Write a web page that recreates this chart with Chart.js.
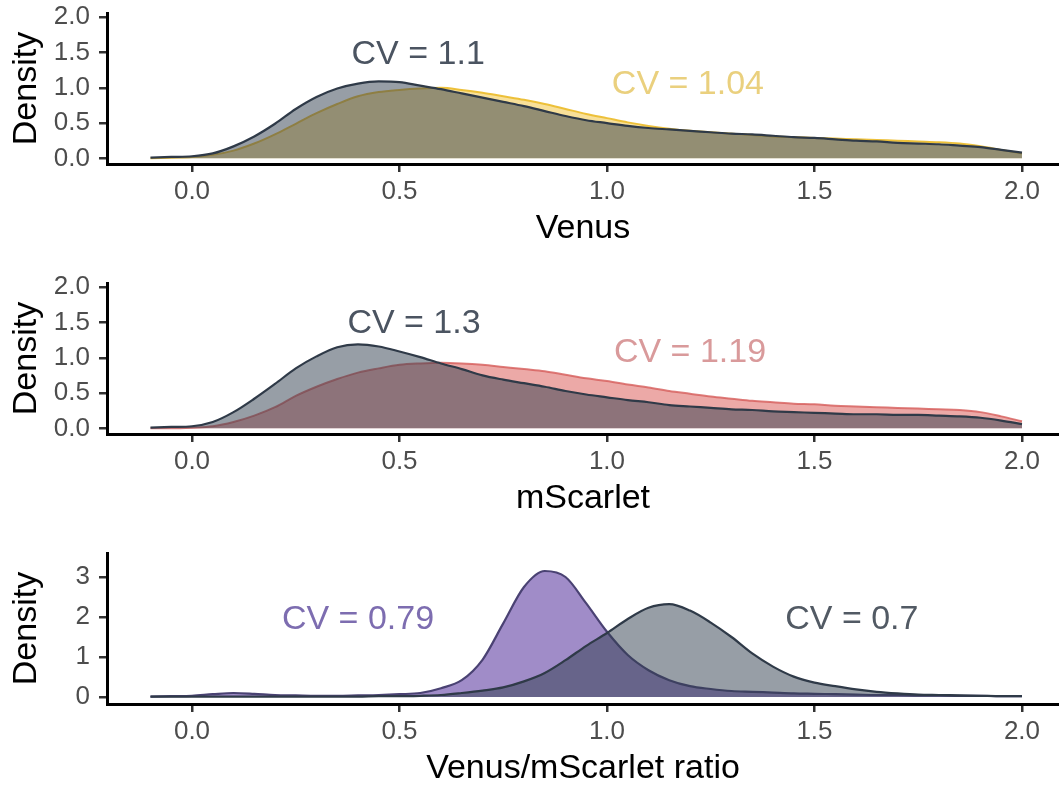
<!DOCTYPE html>
<html>
<head>
<meta charset="utf-8">
<script src="https://cdn.jsdelivr.net/npm/chart.js@4.4.1/dist/chart.umd.min.js"></script>
<style>
  html, body { margin: 0; padding: 0; background: #fff; overflow: hidden; width: 1059px; height: 787px; }
  .panel { position: absolute; left: 0; width: 1059px; height: 262px; }
  canvas { display: block; }
</style>
</head>
<body>
<div class="panel" style="top:0px"><canvas id="venus" width="1059" height="262"></canvas></div>
<div class="panel" style="top:270px"><canvas id="mscarlet" width="1059" height="262"></canvas></div>
<div class="panel" style="top:540px"><canvas id="ratio" width="1059" height="262"></canvas></div>
<script>
// Evaluation grid shared by all density curves
const xGrid = [-0.10, -0.05, 0.00, 0.05, 0.10, 0.15, 0.20, 0.25, 0.30, 0.35, 0.40,
               0.45, 0.50, 0.55, 0.60, 0.65, 0.70, 0.75, 0.80, 0.85, 0.90, 0.95,
               1.00, 1.05, 1.10, 1.15, 1.20, 1.25, 1.30, 1.35, 1.40, 1.45, 1.50,
               1.55, 1.60, 1.65, 1.70, 1.75, 1.80, 1.85, 1.90, 1.95, 2.00];

// Venus densities
const venusDark = [0.01, 0.02, 0.03, 0.07, 0.17, 0.31, 0.49, 0.70, 0.87, 0.99, 1.06,
                   1.09, 1.08, 1.03, 0.98, 0.92, 0.86, 0.80, 0.74, 0.67, 0.60, 0.54,
                   0.50, 0.46, 0.43, 0.41, 0.39, 0.37, 0.35, 0.34, 0.32, 0.30, 0.29,
                   0.27, 0.25, 0.24, 0.22, 0.21, 0.20, 0.18, 0.16, 0.12, 0.08];
const venusGold = [0.00, 0.01, 0.02, 0.05, 0.11, 0.21, 0.34, 0.49, 0.64, 0.77, 0.88,
                   0.94, 0.97, 0.99, 1.00, 0.97, 0.93, 0.88, 0.83, 0.77, 0.70, 0.63,
                   0.57, 0.51, 0.46, 0.42, 0.39, 0.37, 0.35, 0.33, 0.31, 0.30, 0.29,
                   0.28, 0.27, 0.26, 0.25, 0.24, 0.23, 0.21, 0.17, 0.12, 0.07];

// mScarlet densities
const scarletDark = [0.01, 0.02, 0.03, 0.09, 0.23, 0.42, 0.63, 0.85, 1.02, 1.15, 1.19,
                     1.16, 1.09, 1.01, 0.92, 0.84, 0.75, 0.69, 0.64, 0.59, 0.53, 0.48,
                     0.44, 0.40, 0.37, 0.33, 0.31, 0.29, 0.27, 0.26, 0.24, 0.23, 0.22,
                     0.21, 0.20, 0.20, 0.19, 0.19, 0.18, 0.17, 0.15, 0.11, 0.06];
const scarletRed = [0.00, 0.00, 0.01, 0.03, 0.09, 0.18, 0.30, 0.46, 0.59, 0.70, 0.79,
                    0.85, 0.90, 0.92, 0.93, 0.92, 0.90, 0.87, 0.84, 0.81, 0.76, 0.71,
                    0.67, 0.62, 0.58, 0.53, 0.49, 0.45, 0.42, 0.39, 0.37, 0.35, 0.34,
                    0.32, 0.31, 0.30, 0.29, 0.28, 0.27, 0.26, 0.23, 0.17, 0.10];

// Venus/mScarlet ratio densities
const ratioDark = [0.01, 0.01, 0.01, 0.01, 0.01, 0.01, 0.01, 0.01, 0.01, 0.01, 0.01,
                   0.02, 0.02, 0.03, 0.05, 0.10, 0.16, 0.24, 0.39, 0.60, 0.92, 1.28,
                   1.60, 1.95, 2.23, 2.32, 2.16, 1.86, 1.50, 1.09, 0.76, 0.51, 0.36,
                   0.27, 0.19, 0.13, 0.09, 0.06, 0.05, 0.04, 0.03, 0.02, 0.02];
const ratioPurple = [0.01, 0.02, 0.03, 0.07, 0.10, 0.08, 0.05, 0.04, 0.03, 0.03, 0.04,
                     0.05, 0.07, 0.10, 0.22, 0.42, 0.93, 1.84, 2.75, 3.15, 3.00, 2.34,
                     1.63, 1.05, 0.67, 0.42, 0.27, 0.20, 0.15, 0.13, 0.11, 0.09, 0.08,
                     0.07, 0.06, 0.05, 0.05, 0.04, 0.04, 0.03, 0.03, 0.02, 0.02];

// Axis ticks
const xTickValues = [0, 0.5, 1, 1.5, 2];
const xTickLabels = ['0.0', '0.5', '1.0', '1.5', '2.0'];
const yTickValuesFine = [0, 0.5, 1, 1.5, 2];
const yTickLabelsFine = ['0.0', '0.5', '1.0', '1.5', '2.0'];
const yTickValuesRatio = [0, 1, 2, 3];
const yTickLabelsRatio = ['0', '1', '2', '3'];

// CV annotations
const venusNotes = [
  { text: 'CV = 1.1', x: 0.545, y: 1.465, color: '#4b5461' },
  { text: 'CV = 1.04', x: 1.195, y: 1.04, color: '#ead07e' }
];
const scarletNotes = [
  { text: 'CV = 1.3', x: 0.535, y: 1.49, color: '#4b5461' },
  { text: 'CV = 1.19', x: 1.2, y: 1.08, color: '#d99a9b' }
];
const ratioNotes = [
  { text: 'CV = 0.79', x: 0.40, y: 1.93, color: '#7d6db0' },
  { text: 'CV = 0.7', x: 1.59, y: 1.93, color: '#525a64' }
];

const FONT = '"Liberation Sans", Arial, Helvetica, sans-serif';

const toPoints = (ys) => xGrid.map((x, i) => ({ x: x, y: ys[i] }));

const notesPlugin = {
  id: 'cvNotes',
  afterDatasetsDraw(chart, args, opts) {
    const ctx = chart.ctx;
    const xs = chart.scales.x, ys = chart.scales.y;
    ctx.save();
    ctx.font = '34px ' + FONT;
    ctx.textAlign = 'center';
    ctx.textBaseline = 'middle';
    (opts.notes || []).forEach(n => {
      ctx.fillStyle = n.color;
      ctx.fillText(n.text, xs.getPixelForValue(n.x), ys.getPixelForValue(n.y));
    });
    ctx.restore();
  }
};

function densityDataset(ys, fill, stroke, width) {
  return {
    data: toPoints(ys),
    backgroundColor: fill,
    borderColor: stroke,
    borderWidth: width,
    fill: 'origin',
    pointRadius: 0,
    cubicInterpolationMode: 'monotone'
  };
}

function makePanel(id, cfg) {
  const tickGrid = {
    display: true, drawOnChartArea: false, drawTicks: true,
    tickLength: 8, tickColor: '#333333', color: '#333333', lineWidth: 2.5
  };
  new Chart(document.getElementById(id), {
    type: 'line',
    data: { datasets: cfg.datasets },
    plugins: [notesPlugin],
    options: {
      responsive: false,
      animation: false,
      devicePixelRatio: 1,
      layout: { padding: { top: 13, left: 0, right: 0, bottom: 0 } },
      plugins: {
        legend: { display: false },
        tooltip: { enabled: false },
        cvNotes: { notes: cfg.notes }
      },
      scales: {
        x: {
          type: 'linear',
          min: -0.2048, max: 2.0892,
          afterBuildTicks: s => { s.ticks = xTickValues.map(v => ({ value: v })); },
          afterFit: s => { s.height = 98; s.paddingLeft = 0; s.paddingRight = 0; },
          ticks: {
            callback: (v, i) => xTickLabels[i],
            font: { family: FONT, size: 26 },
            color: '#4d4d4d', padding: 4.4,
            maxRotation: 0, autoSkip: false
          },
          grid: tickGrid,
          border: { display: true, color: '#000000', width: 3 },
          title: {
            display: true, text: cfg.xTitle, color: '#000000',
            font: { family: FONT, size: 34 },
            padding: { top: 0, bottom: 13 }
          }
        },
        y: {
          type: 'linear',
          min: cfg.yMin, max: cfg.yMax,
          afterBuildTicks: s => { s.ticks = cfg.yTicks.map(v => ({ value: v })); },
          afterFit: s => { s.width = 107; s.paddingTop = 0; s.paddingBottom = 0; },
          ticks: {
            callback: (v, i) => cfg.yLabels[i],
            font: { family: FONT, size: 26 },
            color: '#4d4d4d', padding: 9
          },
          grid: tickGrid,
          border: { display: true, color: '#000000', width: 3 },
          title: {
            display: true, text: 'Density', color: '#000000',
            font: { family: FONT, size: 34 },
            padding: { top: 6.6, bottom: 0 }
          }
        }
      }
    }
  });
}

const DARK_FILL = 'rgba(47,61,77,0.5)';
const DARK_LINE = '#2f3a48';

makePanel('venus', {
  xTitle: 'Venus',
  yMin: -0.08, yMax: 2.06,
  yTicks: yTickValuesFine, yLabels: yTickLabelsFine,
  notes: venusNotes,
  datasets: [
    densityDataset(venusDark, DARK_FILL, DARK_LINE, 2.2),
    densityDataset(venusGold, 'rgba(241,193,51,0.5)', 'rgba(236,190,50,0.95)', 2)
  ]
});

makePanel('mscarlet', {
  xTitle: 'mScarlet',
  yMin: -0.08, yMax: 2.06,
  yTicks: yTickValuesFine, yLabels: yTickLabelsFine,
  notes: scarletNotes,
  datasets: [
    densityDataset(scarletDark, DARK_FILL, DARK_LINE, 2.2),
    densityDataset(scarletRed, 'rgba(217,83,79,0.5)', 'rgba(214,92,90,0.8)', 2)
  ]
});

makePanel('ratio', {
  xTitle: 'Venus/mScarlet ratio',
  yMin: -0.175, yMax: 3.6,
  yTicks: yTickValuesRatio, yLabels: yTickLabelsRatio,
  notes: ratioNotes,
  datasets: [
    densityDataset(ratioDark, DARK_FILL, DARK_LINE, 2.2),
    densityDataset(ratioPurple, 'rgba(65,25,145,0.5)', '#4a4273', 2.2)
  ]
});
</script>
</body>
</html>
